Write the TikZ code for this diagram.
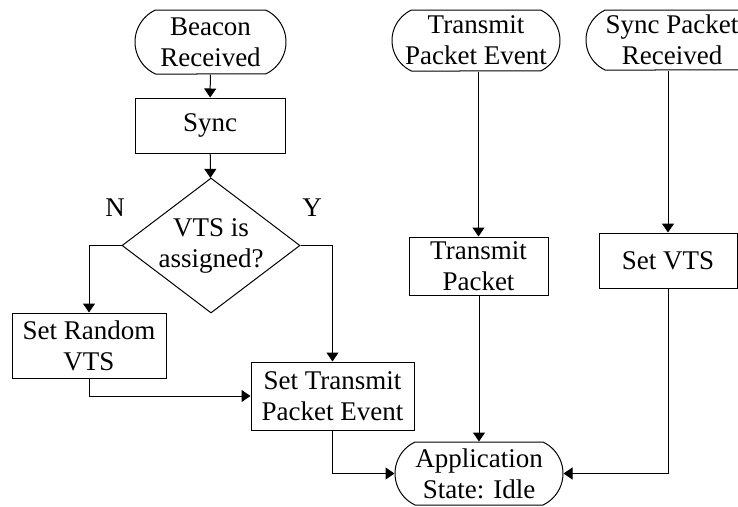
\documentclass[tikz,border=0pt]{standalone}
\usepackage{fontspec}
\setmainfont{Liberation Serif}
\usetikzlibrary{shapes.geometric,shapes.misc,arrows.meta}
\begin{document}
\begin{tikzpicture}[x=1pt,y=-1pt,
  line width=1pt,
  every node/.style={font=\fontsize{27}{31}\selectfont, align=center, inner sep=0pt, draw},
  terminal/.style={rounded rectangle, rounded rectangle arc length=130},
  process/.style={rectangle},
  decision/.style={diamond},
  flow/.style={-{Triangle[length=9pt,width=12pt]}},
  tag/.style={draw=none}]
\useasboundingbox (0,0) rectangle (738,506);

% left column
\node[terminal, minimum width=151pt, minimum height=64pt] (beacon) at (210.5,42) {Beacon\\Received};
\node[process, minimum width=150pt, minimum height=55pt] (sync) at (210,125.5) {Sync};
\node[decision, minimum width=178pt, minimum height=135pt,
      label={[tag]center:VTS is\\assigned?}] (vts) at (211,245.5) {};
\node[process, minimum width=154pt, minimum height=65pt] (setrand) at (89,345.5) {Set Random\\VTS};
\node[process, minimum width=163pt, minimum height=68pt] (settx) at (332.5,396) {Set Transmit\\Packet Event};
\node[tag] (nlab) at (115,208) {N};
\node[tag] (ylab) at (312,208) {Y};

% middle and right columns
\node[terminal, minimum width=168pt, minimum height=61pt] (txevent) at (476,40.5) {Transmit\\Packet Event};
\node[terminal, minimum width=172pt, minimum height=60pt] (syncpkt) at (672,40) {Sync Packet\\Received};
\node[process, minimum width=139pt, minimum height=58pt] (txpkt) at (478.5,266) {Transmit\\Packet};
\node[process, minimum width=138pt, minimum height=55pt] (setvts) at (668,260.5) {Set VTS};
\node[terminal, minimum width=168pt, minimum height=63pt] (app) at (479,473.5) {Application\\State: Idle};

% connectors
\draw[flow] (beacon) -- (sync);
\draw[flow] (sync) -- (vts);
\draw[flow] (vts.west) -| (setrand.north);
\draw[flow] (vts.east) -| (settx.north);
\draw[flow] (setrand.south) |- (settx.west);
\draw[flow] (settx.south) |- (app.west);
\draw[flow] (txevent.south -| txpkt.north) -- (txpkt.north);
\draw[flow] (syncpkt.south -| setvts.north) -- (setvts.north);
\draw[flow] (txpkt.south -| app.north) -- (app.north);
\draw[flow] (setvts.south) |- (app.east);
\end{tikzpicture}
\end{document}
